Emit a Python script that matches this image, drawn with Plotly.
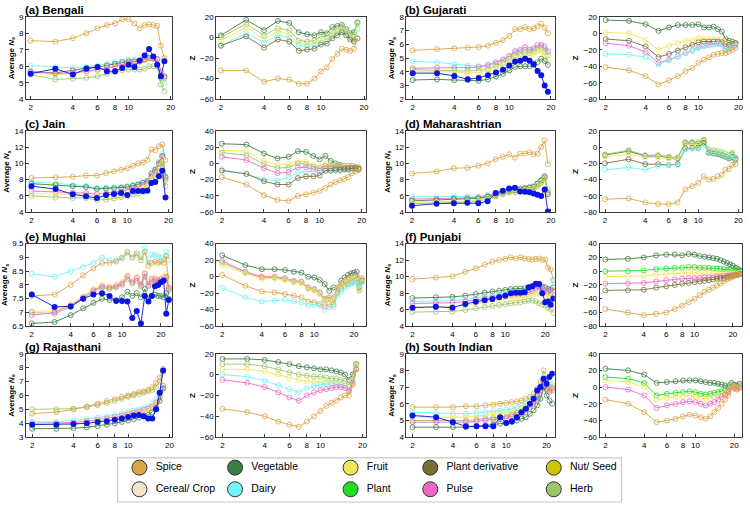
import math

import plotly.graph_objects as go

# ---------------------------------------------------------------- data
CATEGORIES = ["Spice", "Vegetable", "Fruit", "Plant derivative", "Nut/ Seed",
              "Cereal/ Crop", "Dairy", "Plant", "Pulse", "Herb"]
COLORS = {
    "Spice": "#D9A441", "Vegetable": "#3C7D45", "Fruit": "#F2E65A",
    "Plant derivative": "#7A6E38", "Nut/ Seed": "#CCC400",
    "Cereal/ Crop": "#F5E4C8", "Dairy": "#70F5F5", "Plant": "#1EE01E",
    "Pulse": "#F266C8", "Herb": "#9EC46A",
}
OBS_COLOR = "#0A14E6"
X_TICKS = [2, 4, 6, 8, 10, 20]

BENGALI_K = [2, 3, 4, 5, 6, 7, 8, 9, 10, 11, 12, 13, 14, 15, 16, 17, 18]
BENGALI_OBS = [5.55, 5.85, 5.5, 5.85, 5.95, 5.7, 5.7, 5.9, 6.1, 5.95, 6.35, 6.65, 7.05, 6.6, 6.1, 5.4, 6.3]
BENGALI_NS = {
    "Spice": [7.55, 7.5, 7.7, 8.0, 8.3, 8.5, 8.6, 8.85, 8.85, 8.6, 8.3, 8.5, 8.55, 8.5, 8.45, 7.25, 6.5],
    "Dairy": [6.05, 5.95, 5.9, 5.95, 6.05, 6.15, 6.25, 6.3, 6.4, 6.4, 6.35, 6.45, 6.55, 6.5, 6.45, 5.5, 5.0],
    "Vegetable": [5.65, 5.6, 5.75, 5.9, 5.95, 6.05, 6.15, 6.25, 6.3, 6.3, 6.3, 6.4, 6.5, 6.45, 6.4, 5.3, 5.4],
    "Fruit": [5.6, 5.5, 5.55, 5.65, 5.75, 5.85, 5.95, 6.05, 6.15, 6.2, 6.25, 6.35, 6.45, 6.45, 6.4, 5.6, 5.2],
    "Pulse": [5.7, 5.55, 5.6, 5.7, 5.8, 5.9, 6.0, 6.1, 6.2, 6.25, 6.3, 6.4, 6.5, 6.5, 6.45, 5.7, 5.3],
    "Herb": [5.5, 5.2, 5.25, 5.3, 5.4, 5.55, 5.65, 5.75, 5.8, 5.8, 5.8, 5.85, 6.0, 6.0, 6.0, 4.9, 4.5],
}
BENGALI_Z = {
    "Vegetable": [2, 17, 7, 16, 14, 5, 3, 2, 5, 4, 10, 11, 12, 8, 4, 5, 14],
    "Herb": [0, 13, 2, 9, 7, -3, -4, -3, 1, 1, 6, 8, 10, 6, 2, 3, 15],
    "Fruit": [-3, 10, -2, 6, 3, -6, -7, -6, -3, -2, 3, 6, 8, 5, 0, -2, 12],
    "Dairy": [-8, 4, -5, 2, 0, -8, -9, -8, -5, -4, 1, 4, 6, 3, -1, -3, 8],
    "Plant derivative": [-8, 1, -10, -2, -4, -13, -12, -11, -7, -6, -1, 2, 5, 2, -2, -4, -1],
    "Spice": [-32, -32, -43, -40, -41, -45, -45, -40, -33, -29, -21, -16, -11, -12, -13, -11, -1],
}

GUJARATI_K = [2, 3, 4, 5, 6, 7, 8, 9, 10, 11, 12, 13, 14, 15, 16, 17, 18, 19]
GUJARATI_OBS = [3.9, 3.9, 3.7, 3.45, 3.55, 3.75, 3.95, 4.15, 4.45, 4.75, 4.8, 4.95, 4.8, 4.55, 4.05, 3.75, 3.0, 2.55]
GUJARATI_NS = {
    "Spice": [5.55, 5.65, 5.7, 5.75, 5.8, 5.9, 6.1, 6.3, 6.6, 7.1, 7.1, 7.25, 7.1, 7.15, 7.3, 7.5, 7.2, 6.8],
    "Dairy": [4.75, 4.7, 4.55, 4.45, 4.4, 4.45, 4.6, 4.85, 5.1, 5.4, 5.5, 5.6, 5.5, 5.6, 5.8, 5.9, 5.7, 5.4],
    "Pulse": [4.25, 4.3, 4.3, 4.3, 4.35, 4.5, 4.7, 4.9, 5.15, 5.5, 5.6, 5.8, 5.6, 5.7, 5.95, 5.95, 5.85, 5.5],
    "Herb": [4.15, 4.1, 4.1, 4.05, 4.1, 4.2, 4.45, 4.65, 4.95, 5.2, 5.3, 5.4, 5.35, 5.45, 5.65, 5.7, 5.45, 5.2],
    "Fruit": [4.0, 4.0, 4.0, 3.9, 3.95, 4.05, 4.3, 4.5, 4.8, 5.0, 5.1, 5.2, 5.2, 5.3, 5.5, 5.5, 5.2, 4.9],
    "Vegetable": [3.4, 3.45, 3.4, 3.4, 3.35, 3.45, 3.65, 3.85, 4.1, 4.35, 4.4, 4.4, 4.4, 4.5, 4.7, 4.95, 4.8, 4.5],
}
GUJARATI_Z = {
    "Vegetable": [16, 15, 11, 3, 7, 10, 10, 10, 11, 7, 7, 8, 5, 2, -7, -9, -10, -12],
    "Fruit": [1, 0, -8, -20, -15, -12, -9, -8, -6, -7, -7, -7, -8, -7, -12, -13, -12, -13],
    "Plant derivative": [-7, -9, -16, -29, -25, -21, -17, -14, -11, -10, -10, -10, -10, -11, -16, -14, -13, -12],
    "Pulse": [-12, -15, -23, -36, -32, -28, -24, -21, -17, -15, -14, -13, -12, -13, -19, -17, -15, -14],
    "Dairy": [-25, -26, -29, -38, -33, -28, -24, -21, -18, -16, -15, -14, -13, -14, -20, -18, -16, -15],
    "Spice": [-41, -45, -52, -62, -57, -52, -46, -42, -36, -32, -29, -26, -25, -24, -24, -22, -20, -18],
}

JAIN_K = [2, 3, 4, 5, 6, 7, 8, 9, 10, 11, 12, 13, 14, 15, 16, 17, 18, 19]
JAIN_OBS = [7.2, 6.85, 6.2, 5.95, 5.75, 6.1, 6.25, 6.35, 6.1, 6.6, 6.6, 6.6, 6.65, 7.6, 7.7, 8.4, 9.1, 5.8]
JAIN_NS = {
    "Spice": [8.2, 8.3, 8.35, 8.5, 8.5, 8.8, 9.0, 9.2, 9.4, 9.7, 10.0, 10.1, 10.4, 11.7, 11.6, 12.1, 12.3, 10.4],
    "Dairy": [7.7, 7.55, 7.35, 7.25, 7.0, 7.05, 7.05, 7.1, 7.2, 7.35, 7.5, 7.7, 7.9, 8.9, 9.4, 10.2, 11.2, 8.4],
    "Vegetable": [7.5, 7.35, 7.2, 7.1, 6.85, 6.9, 6.95, 7.0, 7.1, 7.25, 7.4, 7.6, 7.8, 8.7, 9.2, 10.0, 10.9, 8.3],
    "Pulse": [6.6, 6.5, 6.4, 6.35, 6.2, 6.3, 6.4, 6.55, 6.7, 6.9, 7.1, 7.3, 7.6, 8.4, 9.0, 9.9, 10.8, 8.0],
    "Fruit": [6.3, 6.2, 6.1, 6.1, 5.9, 6.0, 6.1, 6.25, 6.4, 6.6, 6.8, 7.0, 7.3, 8.1, 8.7, 9.6, 10.5, 7.6],
    "Herb": [6.0, 5.8, 5.75, 5.75, 5.5, 5.55, 5.7, 5.85, 5.95, 6.15, 6.3, 6.5, 6.8, 7.6, 8.2, 9.0, 10.0, 7.2],
}
JAIN_Z = {
    "Vegetable": [24, 23, 12, 6, 8, 15, 14, 9, 5, 9, 3, 0, -2, -3, -3, -3, -4, -5],
    "Fruit": [16, 15, 3, -2, -1, 3, 2, -2, -4, -1, -2, -2, -3, -3, -3, -3, -4, -5],
    "Herb": [13, 10, -1, -6, -5, 0, -1, -4, -6, -3, -4, -4, -4, -5, -5, -5, -5, -6],
    "Pulse": [8, 4, -6, -12, -11, -5, -5, -7, -9, -6, -6, -6, -6, -6, -6, -6, -6, -7],
    "Dairy": [-8, -13, -20, -21, -17, -11, -10, -10, -11, -9, -9, -9, -9, -8, -8, -8, -7, -8],
    "Plant derivative": [-9, -13, -22, -26, -26, -18, -16, -16, -15, -9, -9, -8, -8, -7, -7, -6, -6, -7],
    "Spice": [-17, -26, -39, -45, -46, -40, -38, -36, -34, -30, -26, -23, -21, -19, -17, -12, -10, -8],
}

MAHARASHTRIAN_K = [2, 3, 4, 5, 6, 7, 8, 9, 10, 11, 12, 13, 14, 15, 16, 17, 18, 19]
MAHARASHTRIAN_OBS = [4.8, 5.05, 5.1, 5.15, 5.1, 5.35, 6.35, 6.65, 6.9, 7.0, 6.55, 6.5, 6.45, 6.3, 6.15, 6.0, 6.8, 4.1]
MAHARASHTRIAN_NS = {
    "Spice": [8.75, 9.0, 9.4, 9.45, 9.7, 10.0, 10.5, 10.8, 11.1, 10.7, 11.2, 11.2, 11.35, 11.1, 11.2, 12.0, 12.8, 9.9],
    "Dairy": [5.9, 5.95, 6.0, 5.95, 5.9, 6.1, 6.3, 6.55, 6.75, 6.8, 6.9, 7.0, 7.1, 7.2, 7.6, 8.0, 8.5, 6.5],
    "Pulse": [5.6, 5.65, 5.75, 5.75, 5.8, 6.0, 6.2, 6.45, 6.65, 6.75, 6.85, 6.95, 7.05, 7.15, 7.5, 7.9, 8.4, 6.4],
    "Vegetable": [5.4, 5.5, 5.6, 5.6, 5.7, 5.9, 6.1, 6.4, 6.6, 6.7, 6.8, 6.9, 7.0, 7.1, 7.5, 7.9, 8.3, 6.2],
    "Fruit": [5.2, 5.25, 5.35, 5.4, 5.5, 5.75, 6.0, 6.3, 6.5, 6.55, 6.65, 6.75, 6.85, 6.95, 7.3, 7.7, 8.0, 6.0],
    "Herb": [5.05, 5.1, 5.2, 5.25, 5.35, 5.6, 5.9, 6.2, 6.4, 6.45, 6.55, 6.65, 6.75, 6.85, 7.2, 7.6, 8.2, 6.8],
}
MAHARASHTRIAN_Z = {
    "Vegetable": [-10, -5, -11, -11, -13, -14, 5, 5, 4, 8, -6, -7, -8, -9, -11, -13, -9, -14],
    "Herb": [-9, -4, -10, -10, -12, -13, 6, 6, 6, 9, -3, -4, -5, -6, -8, -10, -7, -13],
    "Fruit": [-12, -9, -13, -13, -14, -15, 3, 3, 3, 7, -5, -6, -7, -8, -10, -12, -10, -15],
    "Plant derivative": [-20, -15, -21, -21, -22, -21, -2, -1, -1, 5, -7, -8, -9, -10, -12, -14, -12, -16],
    "Dairy": [-28, -25, -28, -23, -22, -22, -3, -2, -2, 3, -6, -7, -8, -9, -11, -13, -11, -17],
    "Spice": [-64, -63, -68, -70, -70, -68, -52, -48, -44, -36, -40, -39, -36, -34, -28, -27, -22, -21],
}

MUGHLAI_K = [2, 3, 4, 5, 6, 7, 8, 9, 10, 11, 12, 13, 14, 15, 16, 17, 18, 19, 20, 21, 22, 23]
MUGHLAI_OBS = [7.65, 7.2, 7.22, 7.5, 7.65, 7.7, 7.6, 7.42, 7.42, 7.4, 6.8, 7.05, 6.6, 7.6, 7.4, 7.6, 7.95, 8.0, 8.1, 8.15, 6.95, 7.45]
MUGHLAI_NS = {
    "Dairy": [8.4, 8.3, 8.5, 8.65, 8.8, 9.0, 8.9, 8.9, 8.95, 9.15, 9.0, 9.1, 9.0, 9.35, 8.8, 9.1, 9.1, 9.05, 9.0, 8.95, 9.2, 8.9],
    "Spice": [7.6, 7.65, 8.0, 8.35, 8.6, 8.8, 8.8, 8.85, 9.0, 9.2, 9.0, 9.15, 8.9, 9.2, 8.7, 8.8, 8.85, 8.8, 8.85, 8.8, 9.05, 7.8],
    "Fruit": [7.05, 7.05, 7.3, 7.6, 7.85, 8.0, 7.95, 8.0, 8.1, 8.35, 8.15, 8.3, 8.05, 8.45, 8.1, 8.25, 8.25, 8.2, 8.25, 8.3, 8.4, 8.0],
    "Herb": [7.0, 6.95, 7.2, 7.5, 7.75, 7.9, 7.85, 7.9, 8.0, 8.2, 8.05, 8.15, 7.95, 8.3, 7.95, 8.1, 8.1, 8.05, 8.1, 8.15, 8.25, 7.85],
    "Pulse": [6.9, 7.0, 7.25, 7.55, 7.8, 7.95, 7.9, 7.95, 8.05, 8.3, 8.1, 8.25, 8.0, 8.4, 8.0, 8.2, 8.2, 8.15, 8.2, 8.2, 8.3, 7.9],
    "Vegetable": [6.6, 6.65, 6.9, 7.15, 7.35, 7.5, 7.45, 7.45, 7.55, 7.75, 7.6, 7.7, 7.55, 7.85, 7.5, 7.6, 7.65, 7.6, 7.6, 7.55, 7.7, 7.5],
}
MUGHLAI_Z = {
    "Vegetable": [26, 14, 9, 9, 8, 6, 5, 0, -1, -4, -9, -17, -13, -15, -5, -1, 2, 4, 5, 6, -9, -5],
    "Pulse": [19, 6, 0, 0, -2, -5, -6, -13, -15, -19, -27, -25, -26, -13, -8, -5, -3, -1, 0, 1, -12, -2],
    "Herb": [17, 5, -1, -1, -3, -6, -7, -14, -16, -20, -28, -26, -27, -14, -9, -6, -4, -2, -1, 0, -13, -4],
    "Fruit": [14, 4, -3, -2, -4, -7, -8, -15, -17, -21, -29, -27, -28, -15, -10, -7, -5, -3, -2, -1, -14, -3],
    "Spice": [2, -11, -18, -19, -21, -23, -25, -30, -31, -33, -36, -33, -34, -20, -15, -11, -9, -7, -6, -4, -17, -5],
    "Dairy": [-14, -25, -30, -29, -28, -30, -31, -35, -34, -35, -40, -37, -37, -23, -18, -14, -11, -9, -7, -5, -15, -7],
}

PUNJABI_K = [2, 3, 4, 5, 6, 7, 8, 9, 10, 11, 12, 13, 14, 15, 16, 17, 18, 19, 20, 21, 22, 23]
PUNJABI_OBS = [6.25, 6.35, 6.25, 6.7, 6.95, 7.15, 7.3, 7.5, 7.7, 8.0, 8.05, 8.05, 8.1, 8.7, 8.85, 9.15, 9.1, 8.0, 6.9, 7.0, 6.6, 7.35]
PUNJABI_NS = {
    "Spice": [9.7, 9.9, 10.05, 10.6, 11.0, 11.45, 11.8, 12.0, 12.15, 12.35, 12.2, 12.35, 12.2, 12.15, 12.1, 12.15, 12.2, 12.05, 12.05, 11.1, 10.9, 9.6],
    "Vegetable": [7.4, 7.5, 7.55, 7.7, 7.9, 8.05, 8.2, 8.3, 8.4, 8.5, 8.55, 8.55, 8.6, 8.75, 8.85, 9.0, 8.95, 8.8, 8.7, 8.5, 8.4, 8.7],
    "Dairy": [7.0, 7.05, 7.1, 7.25, 7.45, 7.6, 7.75, 7.85, 7.95, 8.05, 8.1, 8.15, 8.2, 8.35, 8.45, 8.6, 8.55, 8.4, 8.3, 8.1, 8.0, 9.6],
    "Pulse": [6.75, 6.8, 6.85, 7.0, 7.2, 7.35, 7.5, 7.6, 7.7, 7.8, 7.85, 7.9, 7.95, 8.1, 8.25, 8.5, 8.7, 8.6, 8.4, 8.2, 8.0, 8.3],
    "Fruit": [6.3, 6.35, 6.4, 6.55, 6.75, 6.9, 7.05, 7.15, 7.25, 7.35, 7.4, 7.45, 7.5, 7.65, 7.8, 7.95, 8.0, 7.9, 7.8, 7.6, 7.5, 7.8],
    "Herb": [5.7, 5.75, 5.8, 5.95, 6.15, 6.3, 6.45, 6.55, 6.65, 6.75, 6.85, 6.9, 7.0, 7.1, 7.1, 7.0, 6.8, 6.6, 6.5, 6.2, 6.1, 5.6],
}
PUNJABI_Z = {
    "Vegetable": [17, 18, 20, 23, 24, 24, 23, 25, 24, 22, 21, 20, 19, 18, 16, 14, 12, 10, 8, 5, 3, 1],
    "Plant": [0, 0, 1, 3, 4, 5, 5, 6, 6, 5, 5, 5, 4, 4, 3, 3, 2, 2, 1, 0, 0, -1],
    "Fruit": [-8, -8, -7, -5, -4, -3, -3, -2, -2, -3, -3, -3, -3, -3, -3, -3, -3, -3, -3, -3, -3, -3],
    "Pulse": [-18, -18, -17, -15, -13, -12, -11, -10, -10, -10, -9, -9, -9, -8, -8, -7, -7, -6, -6, -5, -5, -4],
    "Plant derivative": [-28, -28, -27, -24, -22, -20, -18, -17, -16, -15, -14, -13, -12, -11, -10, -10, -9, -8, -7, -6, -5, -4],
    "Spice": [-55, -60, -64, -62, -60, -55, -50, -45, -40, -35, -30, -27, -24, -21, -18, -15, -12, -10, -8, -6, -5, -4],
}

RAJASTHANI_K = [2, 3, 4, 5, 6, 7, 8, 9, 10, 11, 12, 13, 14, 15, 16, 17, 18]
RAJASTHANI_OBS = [3.9, 3.9, 3.95, 4.0, 4.1, 4.15, 4.25, 4.35, 4.45, 4.55, 4.6, 4.5, 4.35, 4.35, 5.0, 6.2, 7.8]
RAJASTHANI_NS = {
    "Herb": [5.0, 5.0, 5.05, 5.15, 5.3, 5.45, 5.6, 5.75, 5.9, 6.0, 6.1, 6.2, 6.3, 6.4, 6.6, 7.0, 7.7],
    "Spice": [4.7, 4.8, 5.0, 5.2, 5.4, 5.6, 5.75, 5.9, 6.0, 6.1, 6.25, 6.3, 6.4, 6.6, 6.9, 7.3, 7.9],
    "Dairy": [4.1, 4.1, 4.2, 4.3, 4.4, 4.5, 4.6, 4.7, 4.8, 4.9, 5.0, 5.1, 5.2, 5.4, 5.7, 6.1, 6.6],
    "Pulse": [4.0, 4.0, 4.05, 4.15, 4.25, 4.35, 4.45, 4.55, 4.65, 4.75, 4.85, 4.95, 5.05, 5.2, 5.5, 5.9, 6.7],
    "Fruit": [3.9, 3.9, 3.95, 4.05, 4.15, 4.25, 4.35, 4.45, 4.55, 4.65, 4.75, 4.85, 4.95, 5.1, 5.4, 5.8, 6.5],
    "Vegetable": [3.6, 3.6, 3.65, 3.7, 3.8, 3.9, 4.0, 4.1, 4.2, 4.3, 4.4, 4.5, 4.6, 4.8, 5.1, 5.6, 6.5],
}
RAJASTHANI_Z = {
    "Vegetable": [15, 15, 14, 12, 10, 8, 7, 6, 5, 5, 4, 3, 2, 0, -5, 0, 10],
    "Herb": [10, 10, 8, 5, 2, 0, -1, -2, -2, -3, -4, -4, -5, -6, -10, -2, 9],
    "Fruit": [5, 5, 3, 0, -3, -5, -6, -7, -7, -7, -8, -8, -9, -10, -14, -5, 8],
    "Dairy": [0, -2, -6, -10, -14, -17, -13, -11, -10, -9, -9, -9, -10, -11, -15, -6, 6],
    "Pulse": [-5, -8, -12, -17, -22, -25, -20, -17, -15, -14, -13, -12, -12, -13, -16, -8, 5],
    "Spice": [-33, -36, -40, -45, -48, -50, -45, -40, -35, -30, -27, -25, -22, -20, -20, -10, 5],
}

SOUTH_INDIAN_K = [2, 3, 4, 5, 6, 7, 8, 9, 10, 11, 12, 13, 14, 15, 16, 17, 18, 19, 20, 21, 22]
SOUTH_INDIAN_OBS = [5.3, 5.2, 4.9, 4.65, 4.65, 4.65, 4.65, 5.2, 4.85, 4.95, 5.2, 5.5, 5.7, 6.0, 6.3, 6.8, 7.0, 7.5, 7.2, 7.6, 7.8]
SOUTH_INDIAN_NS = {
    "Spice": [5.8, 5.8, 5.8, 5.85, 5.85, 5.9, 5.95, 6.0, 6.05, 6.1, 6.15, 6.2, 6.3, 6.4, 6.6, 6.9, 7.3, 8.0, 7.5, 7.0, 6.8],
    "Dairy": [5.5, 5.45, 5.4, 5.4, 5.45, 5.5, 5.55, 5.6, 5.65, 5.7, 5.8, 5.9, 6.0, 6.2, 6.4, 6.7, 7.0, 7.6, 7.2, 7.0, 7.2],
    "Fruit": [5.2, 5.2, 5.2, 5.2, 5.25, 5.3, 5.35, 5.4, 5.45, 5.5, 5.6, 5.7, 5.85, 6.0, 6.2, 6.5, 6.9, 7.6, 7.1, 6.9, 7.1],
    "Herb": [5.0, 5.0, 5.0, 5.0, 5.05, 5.1, 5.15, 5.2, 5.25, 5.35, 5.45, 5.55, 5.7, 5.9, 6.1, 6.4, 6.8, 7.5, 7.0, 6.8, 7.0],
    "Pulse": [4.9, 4.9, 4.9, 4.9, 4.95, 5.0, 5.05, 5.1, 5.15, 5.25, 5.35, 5.45, 5.6, 5.8, 6.0, 6.3, 6.7, 7.4, 6.9, 6.7, 6.9],
    "Vegetable": [4.6, 4.6, 4.6, 4.6, 4.65, 4.7, 4.75, 4.8, 4.85, 4.9, 5.0, 5.1, 5.2, 5.4, 5.6, 5.9, 6.3, 7.0, 6.5, 6.2, 6.0],
}
SOUTH_INDIAN_Z = {
    "Vegetable": [22, 20, 15, 5, 6, 7, 8, 8, 8, 7, 6, 5, 5, 4, 3, 2, 1, 5, 3, 2, 4],
    "Plant": [12, 10, 5, -10, -8, -7, -6, -5, -6, -8, -9, -8, -7, -6, -5, -4, -3, 3, 1, 0, 2],
    "Fruit": [8, 6, 0, -15, -13, -12, -11, -10, -11, -13, -14, -13, -12, -10, -9, -7, -5, 2, 0, -1, 1],
    "Pulse": [0, -3, -10, -25, -22, -20, -18, -17, -18, -20, -22, -20, -18, -15, -12, -9, -6, 1, -1, -2, 0],
    "Spice": [-15, -20, -30, -42, -40, -38, -35, -33, -34, -36, -38, -35, -30, -25, -20, -15, -10, 0, -2, -3, -1],
}

# ---------------------------------------------------------------- layout
W, H = 750, 508
COL_PX = [(26, 173), (217, 367), (408, 557), (602, 745)]
ROW_PX = [(13, 97), (129, 212), (244, 328), (356, 441)]

# title, k, observed, Ns series, Z series, x range, Ns range/dtick, Z range/dtick
PANELS = [
    ("(a) Bengali", BENGALI_K, BENGALI_OBS, BENGALI_NS, BENGALI_Z, (1.85, 20.5), (4, 9, 1), (-60, 20, 20)),
    ("(b) Gujarati", GUJARATI_K, GUJARATI_OBS, GUJARATI_NS, GUJARATI_Z, (1.8, 21.3), (2, 8, 1), (-80, 20, 20)),
    ("(c) Jain", JAIN_K, JAIN_OBS, JAIN_NS, JAIN_Z, (1.82, 21.3), (4, 14, 2), (-60, 40, 20)),
    ("(d) Maharashtrian", MAHARASHTRIAN_K, MAHARASHTRIAN_OBS, MAHARASHTRIAN_NS, MAHARASHTRIAN_Z, (1.82, 21.3), (4, 14, 2), (-80, 20, 20)),
    ("(e) Mughlai", MUGHLAI_K, MUGHLAI_OBS, MUGHLAI_NS, MUGHLAI_Z, (1.8, 24.5), (6.5, 9.5, 0.5), (-60, 40, 20)),
    ("(f) Punjabi", PUNJABI_K, PUNJABI_OBS, PUNJABI_NS, PUNJABI_Z, (1.8, 23.6), (4, 14, 2), (-80, 40, 20)),
    ("(g) Rajasthani", RAJASTHANI_K, RAJASTHANI_OBS, RAJASTHANI_NS, RAJASTHANI_Z, (1.8, 21.0), (3, 9, 1), (-60, 20, 20)),
    ("(h) South Indian", SOUTH_INDIAN_K, SOUTH_INDIAN_OBS, SOUTH_INDIAN_NS, SOUTH_INDIAN_Z, (1.8, 23.0), (4, 9, 1), (-60, 40, 20)),
]

LEGEND_BOX = (118, 624, 462, 507)
LEGEND_COL_X = [22, 118, 234, 314, 438]
LEGEND_ROW_Y = [10, 32]

FONT = "Liberation Sans, Arial, sans-serif"


def px_x(px):
    return px / W


def px_y(py):
    return 1 - py / H


def axis_style(**kw):
    base = dict(
        showline=True, mirror=True, linecolor="#3a3a3a", linewidth=0.8,
        ticks="inside", ticklen=3, tickcolor="#3a3a3a", tickwidth=0.8,
        showgrid=False, zeroline=False, ticklabeloverflow="allow",
        tickfont=dict(size=8, color="black", family=FONT),
    )
    base.update(kw)
    return base


fig = go.Figure()
layout = {}
annotations = []
n = 0

for p, (title, k, obs, ns, zs, xr, nsr, zr) in enumerate(PANELS):
    row = p // 2
    for j, (series, yr, ytitle) in enumerate([
        (ns, nsr, "<b>Average <i>N</i><sub>s</sub></b>"),
        (zs, zr, "<b>Z</b>"),
    ]):
        n += 1
        col = (p % 2) * 2 + j
        sx = "" if n == 1 else str(n)
        for cat, vals in series.items():
            fig.add_trace(go.Scatter(
                x=k, y=vals, mode="lines+markers", name=cat, showlegend=False,
                xaxis="x" + sx, yaxis="y" + sx,
                line=dict(color=COLORS[cat], width=0.9),
                marker=dict(symbol="circle-open", size=5, color=COLORS[cat],
                            line=dict(width=0.8, color=COLORS[cat])),
            ))
        if j == 0:
            fig.add_trace(go.Scatter(
                x=k, y=obs, mode="lines+markers", name="Observed", showlegend=False,
                xaxis="x" + sx, yaxis="y" + sx,
                line=dict(color=OBS_COLOR, width=0.9),
                marker=dict(symbol="circle", size=6, color=OBS_COLOR),
            ))
        x0, x1 = COL_PX[col]
        y0, y1 = ROW_PX[row]
        layout["xaxis" + sx] = axis_style(
            type="log", range=[math.log10(xr[0]), math.log10(xr[1])],
            tickvals=X_TICKS, ticktext=[str(t) for t in X_TICKS],
            domain=[px_x(x0), px_x(x1)], anchor="y" + sx,
        )
        layout["yaxis" + sx] = axis_style(
            range=[yr[0], yr[1]], dtick=yr[2], tick0=yr[0],
            domain=[px_y(y1), px_y(y0)], anchor="x" + sx,
            title=dict(text=ytitle, font=dict(size=8, color="black", family=FONT), standoff=3),
        )
        if j == 0:
            annotations.append(dict(
                text="<b>" + title + "</b>", xref="paper", yref="paper",
                x=px_x(x0 - 3), y=px_y(y0 - 7), xanchor="left", yanchor="middle",
                showarrow=False, font=dict(size=11.5, color="black", family=FONT),
            ))

# legend drawn on its own axis pair
n += 1
sx = str(n)
lx0, lx1, ly0, ly1 = LEGEND_BOX
for i, cat in enumerate(CATEGORIES):
    fig.add_trace(go.Scatter(
        x=[LEGEND_COL_X[i % 5]], y=[LEGEND_ROW_Y[i // 5]],
        mode="markers+text", text=["  " + cat], textposition="middle right",
        textfont=dict(size=10.5, color="black", family=FONT),
        marker=dict(size=15, color=COLORS[cat], line=dict(width=1, color="#333")),
        xaxis="x" + sx, yaxis="y" + sx, showlegend=False, hoverinfo="skip",
        cliponaxis=False,
    ))
layout["xaxis" + sx] = dict(domain=[px_x(lx0), px_x(lx1)], range=[0, lx1 - lx0],
                            visible=False, anchor="y" + sx)
layout["yaxis" + sx] = dict(domain=[px_y(ly1), px_y(ly0)], range=[ly1 - ly0, 0],
                            visible=False, anchor="x" + sx)

fig.update_layout(
    width=W, height=H,
    margin=dict(l=0, r=0, t=0, b=0),
    paper_bgcolor="white", plot_bgcolor="white",
    font=dict(family=FONT, size=8, color="black"),
    showlegend=False,
    annotations=annotations,
    shapes=[dict(type="rect", xref="paper", yref="paper",
                 x0=px_x(lx0), x1=px_x(lx1), y0=px_y(ly1), y1=px_y(ly0),
                 line=dict(color="#c8c8c8", width=1.2))],
    **layout,
)

# the page body has a default margin; drop it so the figure sits at the window origin
fig.write_html(
    "out.html",
    config={"displayModeBar": False},
    post_script="document.body.style.margin = '0px';",
)
